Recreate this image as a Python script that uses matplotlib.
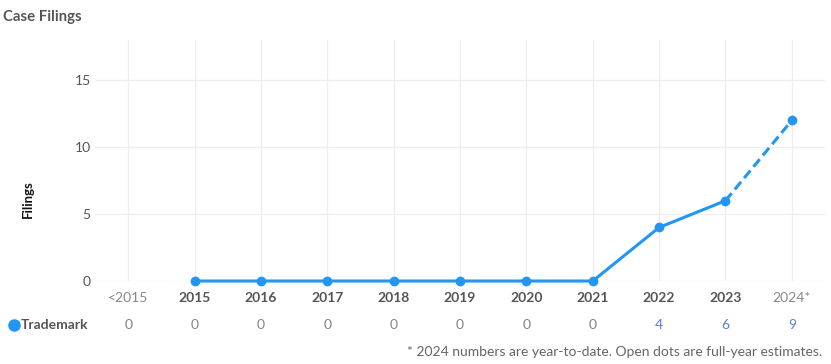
import numpy as np
import matplotlib.pyplot as plt
import matplotlib.transforms as mtransforms

plt.rcParams['font.family'] = ['Lato', 'DejaVu Sans']

categories = ['<2015', '2015', '2016', '2017', '2018', '2019', '2020', '2021', '2022', '2023', '2024*']
table_values = [0, 0, 0, 0, 0, 0, 0, 0, 4, 6, 9]
# plotted points (2015..2023 actual, 2024* full-year estimate)
line_years = ['2015', '2016', '2017', '2018', '2019', '2020', '2021', '2022', '2023']
line_values = [0, 0, 0, 0, 0, 0, 0, 4, 6]
estimate_value = 12

blue = '#2196f3'

fig = plt.figure(figsize=(8.31, 3.64), dpi=100)
ax = fig.add_axes([0.1143, 0.228, 0.8785, 0.662])

x = np.arange(len(categories))
xl = [categories.index(c) for c in line_years]

ax.plot(xl, line_values, color=blue, lw=2.2, marker='o', ms=6, clip_on=False, zorder=3)
ax.plot([xl[-1], x[-1]], [line_values[-1], estimate_value], color=blue, lw=2.2,
        ls=(0, (3.2, 1.6)), marker='o', ms=6, markevery=[1], clip_on=False, zorder=3)

ax.set_xlim(-0.5, len(categories) - 0.5)
ax.set_ylim(0, 18)
ax.set_yticks([0, 5, 10, 15])
ax.set_xticks(x)
ax.set_xticklabels(categories)
ax.grid(True, color='#eeeeee', lw=0.9)
ax.set_axisbelow(True)
for s in ax.spines.values():
    s.set_visible(False)
ax.tick_params(length=0)
ax.tick_params(axis='x', pad=8, labelsize=10)
ax.tick_params(axis='y', pad=3, labelsize=10, labelcolor='#555555')
for i, lab in enumerate(ax.get_xticklabels()):
    if i == 0 or i == len(categories) - 1:
        lab.set_color('#888888')
    else:
        lab.set_color('#555555')
        lab.set_fontweight('bold')

fig.text(0.034, 0.453, 'Filings', rotation=90, ha='center', va='center',
         fontsize=9.5, fontweight='bold', color='#111111')
fig.text(0.004, 0.953, 'Case Filings', ha='left', va='center',
         fontsize=10.7, fontweight='bold', color='#555555')

# table row
trans = mtransforms.blended_transform_factory(ax.transData, fig.transFigure)
for i, v in enumerate(table_values):
    ax.text(i, 0.107, str(v), transform=trans, ha='center', va='center',
            fontsize=10, color='#5b7bd5' if v > 0 else '#8a8178')
fig.lines.append(plt.Line2D([14 / 831], [0.107], marker='o', ms=8, color=blue,
                            transform=fig.transFigure, figure=fig))
fig.text(21 / 831, 0.107, 'Trademark', ha='left', va='center', fontsize=10,
         fontweight='bold', color='#555555')

fig.text(822 / 831, 0.033, '* 2024 numbers are year-to-date. Open dots are full-year estimates.',
         ha='right', va='center', fontsize=10, color='#666666')

fig.savefig('out.png', dpi=100)
